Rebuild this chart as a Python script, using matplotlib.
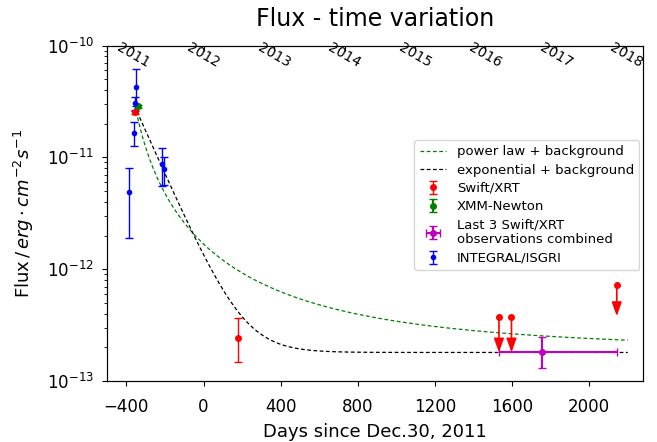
import numpy as np
import matplotlib.pyplot as plt

# INTEGRAL/ISGRI points (days, flux, lower err, upper err)
int_t = [-384, -363, -353, -349, -213, -203]
int_f = [4.9e-12, 1.65e-11, 3.05e-11, 4.3e-11, 8.7e-12, 7.8e-12]
int_lo = [3.0e-12, 3.8e-12, 4.5e-12, 1.4e-11, 3.15e-12, 2.15e-12]
int_hi = [3.2e-12, 4.1e-12, 4.5e-12, 1.85e-11, 3.5e-12, 2.3e-12]

# Swift/XRT detections
xrt_t = [-353, 178]
xrt_f = [2.55e-11, 2.4e-13]
xrt_lo = [1.0e-12, 0.93e-13]
xrt_hi = [1.0e-12, 1.27e-13]

# Swift/XRT upper limits (value, arrow end)
ul_t = [1532, 1597, 2143]
ul_f = [3.75e-13, 3.7e-13, 7.2e-13]
ul_end = [1.8e-13, 1.8e-13, 3.8e-13]

# XMM-Newton
xmm_t = [-342]
xmm_f = [2.85e-11]
xmm_err = [1.0e-12]

# last 3 Swift/XRT combined
comb_t = [1755]
comb_f = [1.8e-13]
comb_ylo = [0.5e-13]
comb_yhi = [0.65e-13]
comb_xlo = [223]
comb_xhi = [388]

# fit parameters
pl_K, pl_t0, pl_idx, pl_bg = 1.65e-7, -450.0, 1.9, 1.8e-13
ex_A, ex_tref, ex_tau, ex_bg = 1.72e-12, -43.0, 112.0, 1.8e-13

years = [2011, 2012, 2013, 2014, 2015, 2016, 2017, 2018]

fig = plt.figure(figsize=(6.57, 4.42), dpi=100)
ax = fig.add_axes([0.163, 0.138, 0.816, 0.759])

t = np.linspace(-342, 2200, 600)
ax.plot(t, pl_K * (t - pl_t0) ** (-pl_idx) + pl_bg, '--', color='g', lw=0.9,
        dashes=(3, 2), label='power law + background')
t2 = np.linspace(-345, 2200, 600)
ax.plot(t2, ex_A * np.exp(-(t2 - ex_tref) / ex_tau) + ex_bg, '--', color='k', lw=0.9,
        dashes=(3, 2), label='exponential + background')

ax.errorbar(xrt_t, xrt_f, yerr=[xrt_lo, xrt_hi], fmt='o', color='r', ms=4,
            capsize=3, elinewidth=1, label='Swift/XRT')
ax.plot(ul_t, ul_f, 'o', color='r', ms=4)
for x, y0, y1 in zip(ul_t, ul_f, ul_end):
    ax.annotate('', xy=(x, y1), xytext=(x, y0),
                arrowprops=dict(arrowstyle='-|>,head_length=0.7,head_width=0.25',
                                color='r', lw=1.2, mutation_scale=12,
                                shrinkA=0, shrinkB=0))
ax.errorbar(xmm_t, xmm_f, yerr=xmm_err, fmt='o', color='g', ms=4, capsize=3,
            label='XMM-Newton')
ax.errorbar(comb_t, comb_f, yerr=[comb_ylo, comb_yhi], xerr=[comb_xlo, comb_xhi],
            fmt='o', color='m', ms=4, capsize=3,
            label='Last 3 Swift/XRT\nobservations combined')
ax.errorbar(int_t, int_f, yerr=[int_lo, int_hi], fmt='.', color='b', ms=6,
            capsize=3, elinewidth=1, label='INTEGRAL/ISGRI')

ax.set_yscale('log')
ax.set_ylim(1e-13, 1e-10)
ax.set_xlim(-500, 2280)
ax.set_xticks([-400, 0, 400, 800, 1200, 1600, 2000])
ax.tick_params(labelsize=12)
ax.tick_params(axis='x', pad=9)
ax.tick_params(axis='y', pad=6)
ax.set_xlabel('Days since Dec.30, 2011', fontsize=13, labelpad=5)
ax.set_ylabel(r'Flux$\,/\,erg\cdot cm^{-2}s^{-1}$', fontsize=13, labelpad=8)
ax.set_title('Flux - time variation', fontsize=17, pad=14)

ax2 = ax.twiny()
ax2.set_xlim(ax.get_xlim())
ax2.set_xticks([(y - 2012) * 365.25 + 1 for y in years])
ax2.set_xticklabels([str(y) for y in years], rotation=-30)
ax2.tick_params(axis='x', direction='in', pad=-18, labelsize=10)

ax.legend(loc='upper right', bbox_to_anchor=(1.0, 0.73), fontsize=9.5,
          borderaxespad=0.3, labelspacing=0.4)

fig.savefig('out.png', dpi=100)
